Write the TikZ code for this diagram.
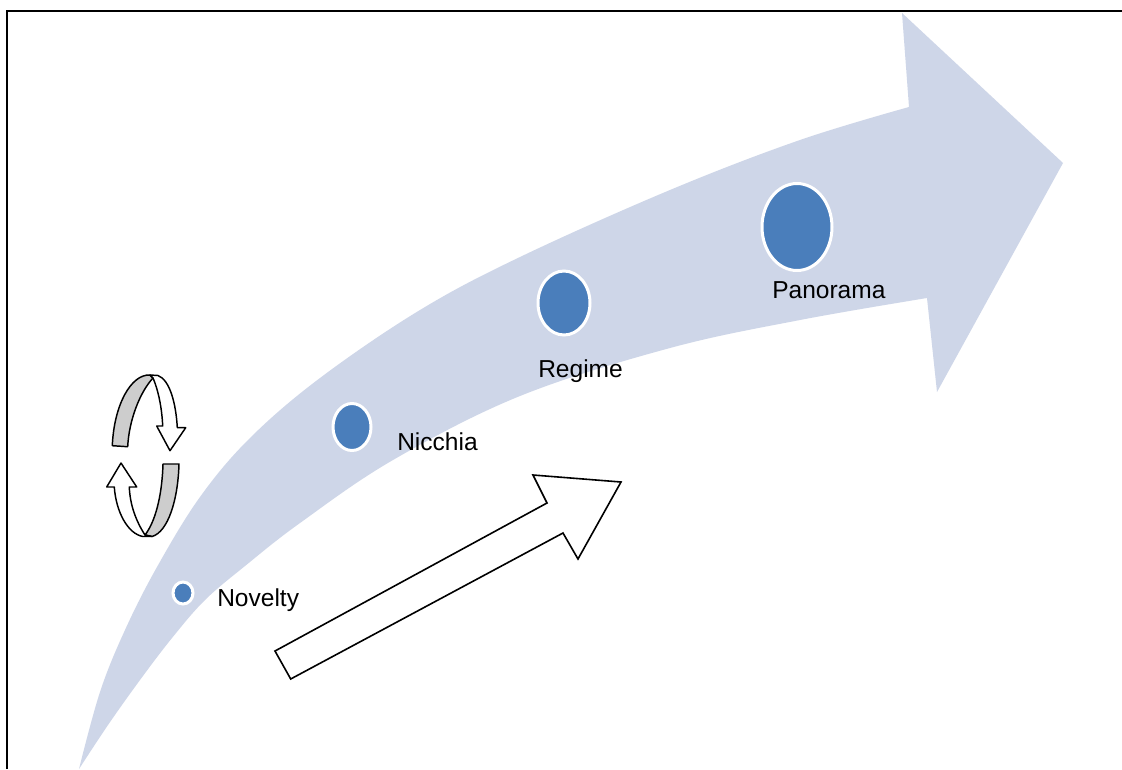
\documentclass[tikz,border=0pt]{standalone}
\usepackage{fontspec}
\setmainfont{Liberation Sans}
\usetikzlibrary{shapes.geometric}
\definecolor{bandblue}{RGB}{206,214,232}
\definecolor{dotblue}{RGB}{74,126,187}
\definecolor{ringgray}{RGB}{205,205,205}
\begin{document}
\begin{tikzpicture}[x=0.75pt,y=-0.75pt,
  dot/.style={ellipse, draw=white, line width=2.25pt, fill=dotblue, inner sep=0pt},
  lbl/.style={anchor=base west, inner sep=0pt, font=\fontsize{18.4}{22}\selectfont, text=black},
  outline/.style={draw=black, line width=1.1pt, line join=round},
  ringback/.style={outline, fill=ringgray},
  ringfront/.style={outline, fill=white},
  frameline/.style={draw=black, line width=1.6pt}]
\useasboundingbox (0,0) rectangle (1122,769);
\fill[white] (0,0) rectangle (1122,769);

% curved band with its arrowhead
\fill[bandblue]
  plot[smooth, tension=0.6] coordinates {(79,769) (100,692) (125,630) (157,567) (200,497) (250,438) (320,378) (420,310) (520,257) (670,190) (800,140) (909,107)}
  -- (902,13) -- (1063,163) -- (937,392) -- (927,298)
  -- plot[smooth, tension=0.6] coordinates {(927,298) (800,320) (670,348) (520,396) (393,460) (300,523) (245,566) (205,600) (172,638) (140,680) (108,725) (79,769)}
  -- cycle;

% stages along the band
\node[dot, minimum width=15pt, minimum height=16.5pt] (novdot) at (183,593) {};
\node[dot, minimum width=28.5pt, minimum height=35.25pt] (nicdot) at (352,427) {};
\node[dot, minimum width=39pt, minimum height=48pt] (regdot) at (564,303) {};
\node[dot, minimum width=52.5pt, minimum height=65.25pt] (pandot) at (797,227) {};

\node[lbl] (novlbl) at (217,606) {Novelty};
\node[lbl] (niclbl) at (397,450) {Nicchia};
\node[lbl] (reglbl) at (538,377) {Regime};
\node[lbl] (panlbl) at (772,298) {Panorama};

% hollow straight arrow
\draw[outline, fill=white, line width=1.2pt, line join=miter]
  (275,651) -- (547,503) -- (533,475) -- (621,482) -- (578,559) -- (563,533) -- (290.7,679) -- cycle;

% cycle symbol: upper half
\draw[ringback] (112.3,445.7) .. controls (114,405) and (131,374) .. (150,375)
  -- (153,378) .. controls (140,392) and (129,420) .. (127.7,446.7) -- cycle;
\draw[ringfront] (153,378) .. controls (159,392) and (162,410) .. (162.7,426)
  -- (156.7,426) -- (170,450.7) -- (185.7,427.7) -- (177.3,427.7)
  .. controls (176,404) and (170,380) .. (158,375.5) -- (150,375) -- cycle;
% cycle symbol: lower half
\draw[ringback] (163,464) -- (179,464) .. controls (178,500) and (168,532) .. (152,536.5)
  -- (145,535) .. controls (155,522) and (162,497) .. (163,464) -- cycle;
\draw[ringfront] (145,535) .. controls (136,521) and (130,505) .. (129.3,487)
  -- (136.7,487) -- (121,463) -- (106.7,487) -- (114.3,487)
  .. controls (116,512) and (128,534) .. (143,536.5) -- (152,536.5) -- cycle;

% frame
\draw[frameline] (7,769) -- (7,11) -- (1122,11);
\end{tikzpicture}
\end{document}
